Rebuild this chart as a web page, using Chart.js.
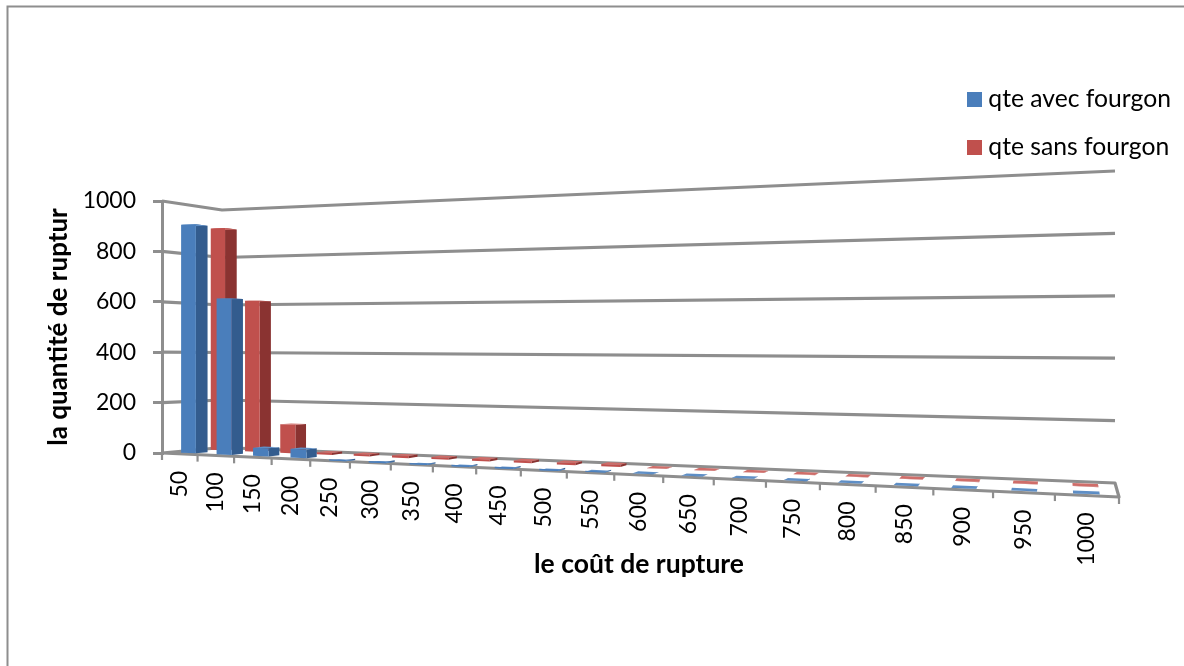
<!DOCTYPE html>
<html><head><meta charset="utf-8">
<style>html,body{margin:0;padding:0;background:#fff}#wrap{width:1184px;height:666px}</style>
<script src="https://cdn.jsdelivr.net/npm/chart.js@4/dist/chart.umd.min.js"></script>
</head><body><div id="wrap"><canvas id="c" width="1184" height="666"></canvas></div>
<script>
const categories = ['50','100','150','200','250','300','350','400','450','500','550','600','650','700','750','800','850','900','950','1000'];
const avecFourgon = [915,620,38,40,1,1,1,1,1,1,3,5,5,5,5,5,5,5,5,5];
const sansFourgon = [915,617,120,14,14,14,14,14,14,14,14,7,7,7,7,7,7,7,7,7];
const yTicks = [0,200,400,600,800,1000];
const depthCentre = [0.25, 0.75];
const depthHalf = 0.1;
const FONT = 'Lato';
const GREY = '#8e8e8e';
const faces = [
  {front:'#4a7ebb', side:'#335c8e', top:'#5f8fc6'},
  {front:'#c0504d', side:'#8a3331', top:'#cf6d69'}
];

function persp(u){ const k = 1.364; return u/(u + k*(1-u)); }
function lerp(a,b,t){ return a + (b-a)*t; }
// Floor / wall projection: u across categories, d in depth (0 front, 1 back), v = share of the y scale
function project(chart,u,d,v){
  const a = chart.chartArea, f = persp(u), H = a.bottom - a.top;
  const fx = a.left + 957*f, bx = a.left + 60 + 893*f;
  const fy = a.bottom + 44*f, by = a.bottom - 5.5 + 35.5*f;
  const fh = H*(1 + 0.31*f), bh = H*(0.9425 + 0.2955*f);
  return {x: lerp(fx,bx,d), y: lerp(fy,by,d) - v*lerp(fh,bh,d)};
}
function poly(ctx,pts,fill){
  ctx.beginPath(); pts.forEach((p,i)=> i?ctx.lineTo(p.x,p.y):ctx.moveTo(p.x,p.y)); ctx.closePath();
  ctx.fillStyle = fill; ctx.fill();
}
function seg(ctx,pts,w){
  ctx.beginPath(); pts.forEach((p,i)=> i?ctx.lineTo(p.x,p.y):ctx.moveTo(p.x,p.y));
  ctx.lineWidth = w; ctx.strokeStyle = GREY; ctx.lineJoin='round'; ctx.stroke();
}
const perspective = {
  id:'perspective',
  afterLayout(chart){
    const l = chart.legend;
    l.left = 949.7; l.right = 1184; l.top = 63.85; l.bottom = 230;
  },
  afterDatasetsUpdate(chart){
    const a = chart.chartArea;
    chart.data.datasets.forEach((ds,di)=>{
      chart.getDatasetMeta(di).data.forEach(el=>{
        el.draw = function(ctx){
          const W = a.right - a.left, H = a.bottom - a.top;
          const p = this.getProps(['x','y','width','base'], true);
          const u0 = (p.x - p.width/2 - a.left)/W, u1 = (p.x + p.width/2 - a.left)/W;
          const v = (p.base - p.y)/H;
          const d0 = depthCentre[di]-depthHalf, d1 = depthCentre[di]+depthHalf, c = faces[di];
          poly(ctx,[project(chart,u1,d0,0),project(chart,u1,d1,0),project(chart,u1,d1,v),project(chart,u1,d0,v)],c.side);
          poly(ctx,[project(chart,u0,d0,v),project(chart,u1,d0,v),project(chart,u1,d1,v),project(chart,u0,d1,v)],c.top);
          poly(ctx,[project(chart,u0,d0,0),project(chart,u1,d0,0),project(chart,u1,d0,v),project(chart,u0,d0,v)],c.front);
        };
      });
    });
  },
  beforeDatasetsDraw(chart){
    const ctx = chart.ctx, y = chart.scales.y, a = chart.chartArea, H = a.bottom-a.top;
    ctx.save();
    // outer frame
    ctx.strokeStyle = GREY; ctx.lineWidth = 2;
    ctx.beginPath(); ctx.moveTo(7.5,666); ctx.lineTo(7.5,6.5); ctx.lineTo(1184,6.5); ctx.stroke();
    // walls
    yTicks.forEach(t=>{
      const v = (a.bottom - y.getPixelForValue(t))/H;
      if(t===0) return;
      seg(ctx,[project(chart,0,0,v),project(chart,0,1,v),project(chart,1,1,v)],3.2);
    });
    // floor
    seg(ctx,[project(chart,0,0,0),project(chart,0,1,0),project(chart,1,1,0),project(chart,1,0,0),project(chart,0,0,0)],3.2);
    // category ticks and labels on the front edge
    for(let i=0;i<=categories.length;i++){
      const p = project(chart,i/categories.length,0,0);
      seg(ctx,[p,{x:p.x,y:p.y+7}],2.2);
    }
    const x = chart.scales.x;
    ctx.fillStyle = '#000'; ctx.font = '23px '+FONT; ctx.textAlign='right'; ctx.textBaseline='middle';
    categories.forEach((lab,i)=>{
      const u = (x.getPixelForValue(i)-a.left)/(a.right-a.left);
      const p = project(chart,u,0,0);
      ctx.save(); ctx.translate(p.x,p.y+17); ctx.rotate(-Math.PI/2); ctx.fillText(lab,0,0); ctx.restore();
    });
    ctx.restore();
  }
};
new Chart(document.getElementById('c'),{
  type:'bar',
  plugins:[perspective],
  data:{labels:categories,datasets:[
    {label:'qte avec fourgon',data:avecFourgon,backgroundColor:faces[0].front,borderColor:faces[0].front,borderWidth:12,clip:false},
    {label:'qte sans fourgon',data:sansFourgon,backgroundColor:faces[1].front,borderColor:faces[1].front,borderWidth:12,clip:false}
  ]},
  options:{
    responsive:false,animation:false,
    layout:{padding:{left:39,right:68,top:201,bottom:82}},
    datasets:{bar:{grouped:false,barPercentage:0.42,categoryPercentage:1}},
    plugins:{
      tooltip:{enabled:false},
      legend:{position:'chartArea',align:'start',labels:{boxWidth:3,boxHeight:3,padding:23.3,color:'#000',font:{family:FONT,size:24.7,lineHeight:1}}}
    },
    scales:{
      x:{
        afterFit(s){ s.height = 131; },
        grid:{display:false},border:{display:false},ticks:{display:false},
        title:{display:true,text:'le coût de rupture',color:'#000',font:{family:FONT,size:26.5,weight:'bold'}}
      },
      y:{
        min:0,max:1000,
        afterBuildTicks(s){ s.ticks = yTicks.map(v=>({value:v})); },
        afterFit(s){ s.width = 123; },
        grid:{drawOnChartArea:false,drawTicks:true,tickLength:9,color:GREY,lineWidth:3},
        border:{display:true,color:GREY,width:3},
        ticks:{color:'#000',padding:17,font:{family:FONT,size:23},callback:v=>String(v)},
        title:{display:true,text:'la quantité de ruptur',color:'#000',font:{family:FONT,size:26,weight:'bold'}}
      }
    }
  }
});
</script></body></html>
